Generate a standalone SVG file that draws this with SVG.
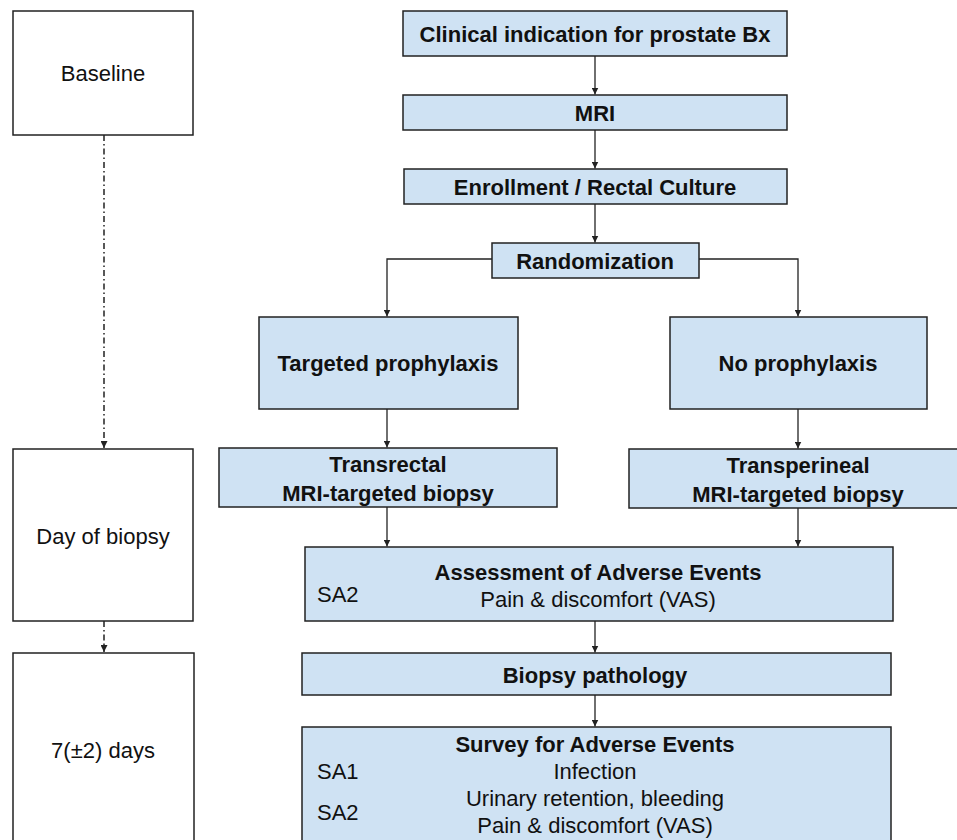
<svg xmlns="http://www.w3.org/2000/svg" width="957" height="840" viewBox="0 0 957 840">
<style>
.w{fill:#ffffff;stroke:#222;stroke-width:1.5}
.b{fill:#cfe2f3;stroke:#222;stroke-width:1.5}
text{font-family:"Liberation Sans",Arial,sans-serif;font-size:22px;fill:#111;text-anchor:middle;dominant-baseline:central}
.bold{font-weight:bold}
.l{text-anchor:start}
.c{fill:none;stroke:#222;stroke-width:1.3}
.d{fill:none;stroke:#222;stroke-width:1.5;stroke-dasharray:6 3 1.5 3}
</style>
<defs>
<marker id="ah" viewBox="0 0 10 10" refX="10" refY="5" markerWidth="7" markerHeight="7" markerUnits="userSpaceOnUse" orient="auto">
<path d="M0,0 L10,5 L0,10 z" fill="#222"/>
</marker>
</defs>
<rect width="957" height="840" fill="#ffffff"/>
<g id="connectors">
<line class="d" x1="104" y1="135" x2="104" y2="448" marker-end="url(#ah)"/>
<line class="d" x1="104" y1="621" x2="104" y2="652" marker-end="url(#ah)"/>
<line class="c" x1="595" y1="56" x2="595" y2="94.5" marker-end="url(#ah)"/>
<line class="c" x1="595" y1="130" x2="595" y2="168.5" marker-end="url(#ah)"/>
<line class="c" x1="595" y1="204" x2="595" y2="242.5" marker-end="url(#ah)"/>
<polyline class="c" points="492,259 387,259 387,316.5" marker-end="url(#ah)"/>
<polyline class="c" points="699,259 798,259 798,316.5" marker-end="url(#ah)"/>
<line class="c" x1="387" y1="409" x2="387" y2="447.5" marker-end="url(#ah)"/>
<line class="c" x1="798" y1="409" x2="798" y2="448.5" marker-end="url(#ah)"/>
<line class="c" x1="387" y1="507" x2="387" y2="546.5" marker-end="url(#ah)"/>
<line class="c" x1="798" y1="508" x2="798" y2="546.5" marker-end="url(#ah)"/>
<line class="c" x1="595" y1="621" x2="595" y2="652.5" marker-end="url(#ah)"/>
<line class="c" x1="595" y1="695" x2="595" y2="726.5" marker-end="url(#ah)"/>
</g>
<g id="baseline">
<rect class="w" x="13" y="11" width="180" height="124"/>
<text x="103" y="73">Baseline</text>
</g>
<g id="day-of-biopsy">
<rect class="w" x="13" y="449" width="180" height="172"/>
<text x="103" y="536">Day of biopsy</text>
</g>
<g id="seven-days">
<rect class="w" x="13" y="653" width="181" height="200"/>
<text x="103" y="750">7(±2) days</text>
</g>
<g id="clinical">
<rect class="b" x="403" y="11" width="384" height="45"/>
<text class="bold" x="595" y="34">Clinical indication for prostate Bx</text>
</g>
<g id="mri">
<rect class="b" x="403" y="95" width="384" height="35"/>
<text class="bold" x="595" y="113">MRI</text>
</g>
<g id="enrollment">
<rect class="b" x="404" y="169" width="383" height="35"/>
<text class="bold" x="595" y="187">Enrollment / Rectal Culture</text>
</g>
<g id="randomization">
<rect class="b" x="492" y="243" width="207" height="35"/>
<text class="bold" x="595" y="261">Randomization</text>
</g>
<g id="targeted-prophylaxis">
<rect class="b" x="259" y="317" width="259" height="92"/>
<text class="bold" x="388" y="363">Targeted prophylaxis</text>
</g>
<g id="no-prophylaxis">
<rect class="b" x="670" y="317" width="257" height="92"/>
<text class="bold" x="798" y="363">No prophylaxis</text>
</g>
<g id="transrectal">
<rect class="b" x="219" y="448" width="338" height="59"/>
<text class="bold" x="388" y="464">Transrectal</text>
<text class="bold" x="388" y="493">MRI-targeted biopsy</text>
</g>
<g id="transperineal">
<rect class="b" x="629" y="449" width="338" height="59"/>
<text class="bold" x="798" y="465">Transperineal</text>
<text class="bold" x="798" y="494">MRI-targeted biopsy</text>
</g>
<g id="assessment">
<rect class="b" x="305" y="547" width="588" height="74"/>
<text class="bold" x="598" y="572">Assessment of Adverse Events</text>
<text x="598" y="599">Pain &amp; discomfort (VAS)</text>
<text class="l" x="317" y="594">SA2</text>
</g>
<g id="biopsy-pathology">
<rect class="b" x="302" y="653" width="589" height="42"/>
<text class="bold" x="595" y="675">Biopsy pathology</text>
</g>
<g id="survey">
<rect class="b" x="302" y="727" width="589" height="130"/>
<text class="bold" x="595" y="744">Survey for Adverse Events</text>
<text x="595" y="771">Infection</text>
<text x="595" y="798">Urinary retention, bleeding</text>
<text x="595" y="825">Pain &amp; discomfort (VAS)</text>
<text class="l" x="317" y="771">SA1</text>
<text class="l" x="317" y="812">SA2</text>
</g>
</svg>
